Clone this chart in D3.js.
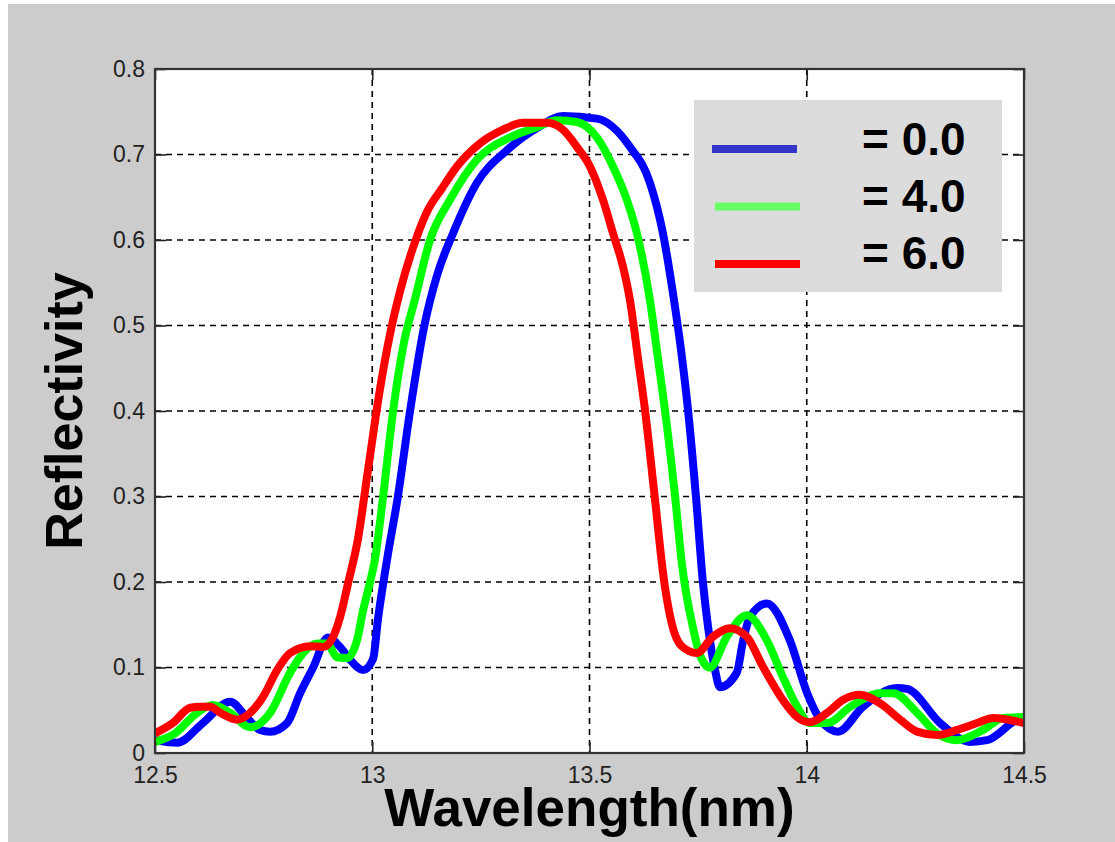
<!DOCTYPE html>
<html>
<head>
<meta charset="utf-8">
<script src="https://cdn.jsdelivr.net/npm/d3@7"></script>
<style>
  html, body { margin: 0; padding: 0; background: #fff; }
  svg { display: block; }
</style>
</head>
<body>
<svg width="1115" height="842"></svg>
<script>
// reflectivity spectra, [wavelength nm, reflectivity]
const blueData = [
  [12.5, 0.015], [12.551, 0.012], [12.61, 0.035], [12.673, 0.06], [12.712, 0.041],
  [12.742, 0.027], [12.765, 0.025], [12.804, 0.035], [12.834, 0.07], [12.864, 0.1],
  [12.898, 0.135], [12.926, 0.124], [12.949, 0.109], [12.979, 0.097], [13.002, 0.11],
  [13.013, 0.156], [13.034, 0.226], [13.059, 0.3], [13.087, 0.4], [13.12, 0.5],
  [13.15, 0.56], [13.186, 0.608], [13.241, 0.667], [13.31, 0.705], [13.379, 0.731],
  [13.439, 0.745], [13.517, 0.742], [13.593, 0.709], [13.639, 0.667], [13.669, 0.608],
  [13.692, 0.538], [13.711, 0.47], [13.727, 0.4], [13.745, 0.3], [13.761, 0.2],
  [13.773, 0.147], [13.789, 0.097], [13.8, 0.077], [13.839, 0.094], [13.853, 0.13],
  [13.869, 0.159], [13.908, 0.175], [13.961, 0.132], [14.001, 0.07], [14.031, 0.039],
  [14.072, 0.025], [14.129, 0.054], [14.208, 0.076], [14.231, 0.075], [14.307, 0.035],
  [14.376, 0.013], [14.415, 0.015], [14.484, 0.039], [14.5, 0.042]
];
const greenData = [
  [12.5, 0.013], [12.546, 0.023], [12.597, 0.047], [12.633, 0.056], [12.673, 0.047],
  [12.719, 0.03], [12.765, 0.047], [12.811, 0.094], [12.841, 0.117], [12.873, 0.128],
  [12.896, 0.128], [12.919, 0.112], [12.942, 0.111], [12.965, 0.132], [12.979, 0.167],
  [12.995, 0.2], [13.006, 0.226], [13.025, 0.3], [13.048, 0.4], [13.073, 0.48],
  [13.098, 0.53], [13.133, 0.6], [13.179, 0.647], [13.241, 0.694], [13.317, 0.72],
  [13.379, 0.732], [13.425, 0.74], [13.471, 0.738], [13.517, 0.72], [13.554, 0.686],
  [13.586, 0.647], [13.609, 0.608], [13.639, 0.53], [13.658, 0.46], [13.674, 0.4],
  [13.697, 0.3], [13.713, 0.22], [13.738, 0.147], [13.754, 0.115], [13.777, 0.1],
  [13.816, 0.136], [13.862, 0.161], [13.908, 0.132], [13.945, 0.089], [13.978, 0.054],
  [14.007, 0.035], [14.047, 0.035], [14.1, 0.054], [14.169, 0.07], [14.199, 0.07],
  [14.254, 0.047], [14.3, 0.023], [14.346, 0.015], [14.406, 0.027], [14.452, 0.041],
  [14.5, 0.042]
];
const redData = [
  [12.5, 0.023], [12.541, 0.035], [12.581, 0.053], [12.604, 0.054], [12.627, 0.054],
  [12.65, 0.047], [12.689, 0.039], [12.719, 0.047], [12.749, 0.066], [12.781, 0.097],
  [12.811, 0.117], [12.857, 0.125], [12.887, 0.124], [12.91, 0.136], [12.926, 0.159],
  [12.945, 0.2], [12.967, 0.25], [12.99, 0.33], [13.016, 0.42],
  [13.041, 0.49], [13.064, 0.54], [13.1, 0.6], [13.128, 0.635], [13.16, 0.66], [13.195, 0.686],
  [13.248, 0.713], [13.301, 0.729], [13.347, 0.737], [13.402, 0.737], [13.439, 0.729],
  [13.471, 0.709], [13.501, 0.686], [13.531, 0.647], [13.554, 0.608], [13.577, 0.569],
  [13.593, 0.53], [13.612, 0.46], [13.628, 0.4], [13.65, 0.3], [13.672, 0.2],
  [13.69, 0.15], [13.712, 0.125], [13.747, 0.117], [13.784, 0.136], [13.823, 0.146],
  [13.862, 0.136], [13.899, 0.101], [13.945, 0.062], [13.978, 0.042], [14.007, 0.036],
  [14.047, 0.047], [14.083, 0.062], [14.122, 0.068], [14.169, 0.058], [14.215, 0.039],
  [14.254, 0.025], [14.3, 0.021], [14.346, 0.027], [14.392, 0.035], [14.429, 0.041],
  [14.5, 0.035]
];

const seriesLabels = ["= 0.0", "= 4.0", "= 6.0"];
const xTicks = [12.5, 13, 13.5, 14, 14.5];
const yTicks = [0, 0.1, 0.2, 0.3, 0.4, 0.5, 0.6, 0.7, 0.8];

const svg = d3.select("svg");
const width = +svg.attr("width");
const height = +svg.attr("height");

const margin = { top: 69, right: 91, bottom: 89, left: 155 };
const innerWidth = width - margin.left - margin.right;
const innerHeight = height - margin.top - margin.bottom;

// grey figure background with thin white strip top/left
svg.append("rect")
  .attr("x", 8).attr("y", 4)
  .attr("width", width - 8).attr("height", height - 4)
  .attr("fill", "#cccccc");

const xScale = d3.scaleLinear().domain([12.5, 14.5]).range([0, innerWidth]);
const yScale = d3.scaleLinear().domain([0, 0.8]).range([innerHeight, 0]);

const g = svg.append("g")
  .attr("transform", `translate(${margin.left}, ${margin.top})`);

g.append("rect")
  .attr("width", innerWidth)
  .attr("height", innerHeight)
  .attr("fill", "#fff");

g.append("clipPath").attr("id", "plot-clip")
  .append("rect").attr("width", innerWidth).attr("height", innerHeight);

//dashed grid
const grid = g.append("g").attr("class", "grid");
grid.selectAll(".vgrid")
  .data(xTicks.slice(1, -1))
  .enter().append("line")
  .attr("x1", (d) => xScale(d)).attr("x2", (d) => xScale(d))
  .attr("y1", 0).attr("y2", innerHeight);
grid.selectAll(".hgrid")
  .data(yTicks.slice(1, -1))
  .enter().append("line")
  .attr("x1", 0).attr("x2", innerWidth)
  .attr("y1", (d) => yScale(d)).attr("y2", (d) => yScale(d));
grid.selectAll("line")
  .attr("stroke", "#000")
  .attr("stroke-width", 1.6)
  .attr("stroke-dasharray", "6,5");

//curves
const line = d3.line()
  .x((d) => xScale(d[0]))
  .y((d) => yScale(d[1]))
  .curve(d3.curveMonotoneX);

const curves = [
  { data: blueData, color: "#0000ff" },
  { data: greenData, color: "#00ff00" },
  { data: redData, color: "#ff0000" },
];

g.append("g")
  .attr("clip-path", "url(#plot-clip)")
  .selectAll("path")
  .data(curves)
  .enter().append("path")
  .attr("d", (d) => line(d.data))
  .attr("fill", "none")
  .attr("stroke", (d) => d.color)
  .attr("stroke-width", 8)
  .attr("stroke-linejoin", "round");

//axes, MATLAB style inward ticks
const tickStyle = (sel) => {
  sel.selectAll("text")
    .attr("font-family", "'Liberation Sans', Arial, sans-serif")
    .attr("font-size", 23)
    .attr("fill", "#222");
  sel.selectAll("line").attr("stroke", "#222").attr("stroke-width", 1.6);
  sel.select(".domain").remove();
};
const noLabels = (sel) => sel.selectAll("text").remove();

g.append("g")
  .attr("transform", `translate(0, ${innerHeight})`)
  .call(d3.axisBottom(xScale).tickValues(xTicks).tickFormat(d3.format("")).tickSizeInner(-11).tickSizeOuter(0).tickPadding(14))
  .call(tickStyle);

g.append("g")
  .call(d3.axisTop(xScale).tickValues(xTicks).tickSizeInner(-11).tickSizeOuter(0))
  .call(tickStyle)
  .call(noLabels);

g.append("g")
  .call(d3.axisLeft(yScale).tickValues(yTicks).tickFormat(d3.format("")).tickSizeInner(-11).tickSizeOuter(0).tickPadding(10))
  .call(tickStyle);

g.append("g")
  .attr("transform", `translate(${innerWidth}, 0)`)
  .call(d3.axisRight(yScale).tickValues(yTicks).tickSizeInner(-11).tickSizeOuter(0))
  .call(tickStyle)
  .call(noLabels);

g.append("rect")
  .attr("width", innerWidth)
  .attr("height", innerHeight)
  .attr("fill", "none")
  .attr("stroke", "#333")
  .attr("stroke-width", 2.2);

//legend
const legend = svg.append("g").attr("transform", "translate(694, 100)");
legend.append("rect")
  .attr("width", 308)
  .attr("height", 192)
  .attr("fill", "#dcdcdc");

const legendColors = ["#3535c9", "#66ff66", "#ff0000"];
const legendRows = legend.selectAll(".legends")
  .data(seriesLabels)
  .enter().append("g")
  .attr("class", "legends")
  .attr("transform", (d, i) => `translate(0, ${49 + i * 57})`);

legendRows.append("line")
  .attr("x1", (d, i) => (i === 0 ? 18 : 21))
  .attr("x2", (d, i) => (i === 0 ? 103 : 106))
  .attr("y1", (d, i) => i * 0.5)
  .attr("y2", (d, i) => i * 0.5)
  .attr("stroke", (d, i) => legendColors[i])
  .attr("stroke-width", 8);

legendRows.append("text")
  .attr("x", 168)
  .attr("y", 6)
  .text((d) => d)
  .attr("font-family", "'Liberation Sans', Arial, sans-serif")
  .attr("font-weight", "bold")
  .attr("font-size", 46)
  .attr("fill", "#000");

//axis titles
svg.append("text")
  .attr("transform", `translate(82, ${margin.top + innerHeight / 2}) rotate(-90)`)
  .attr("text-anchor", "middle")
  .attr("font-family", "'Liberation Sans', Arial, sans-serif")
  .attr("font-weight", "bold")
  .attr("font-size", 52)
  .text("Reflectivity");

svg.append("text")
  .attr("x", margin.left + innerWidth / 2)
  .attr("y", 826)
  .attr("text-anchor", "middle")
  .attr("font-family", "'Liberation Sans', Arial, sans-serif")
  .attr("font-weight", "bold")
  .attr("font-size", 53)
  .text("Wavelength(nm)");
</script>
</body>
</html>
